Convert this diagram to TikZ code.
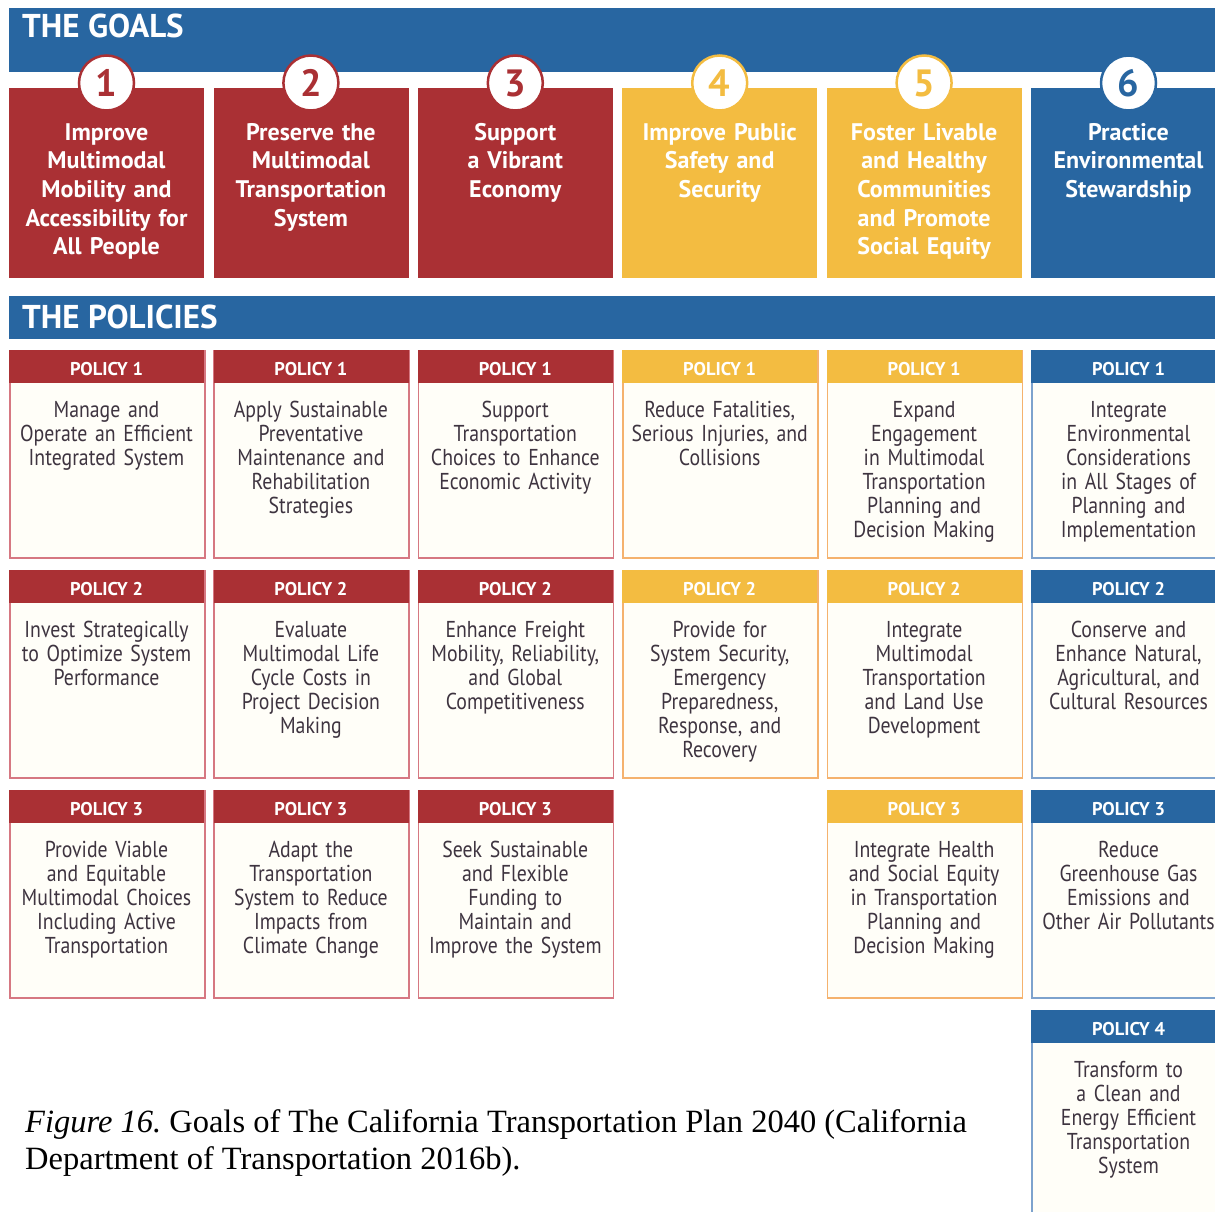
\documentclass[tikz,border=0pt]{standalone}
\usepackage{fontspec}
\setmainfont{Liberation Serif}
\newfontfamily\hfont{PT Sans}
\newfontfamily\bfont[FakeStretch=0.86]{PT Sans}
\usetikzlibrary{calc}
\definecolor{gred}{RGB}{170,48,52}
\definecolor{gyel}{RGB}{243,188,65}
\definecolor{gblu}{RGB}{40,102,161}
\definecolor{bred}{RGB}{214,120,130}
\definecolor{byel}{RGB}{245,178,110}
\definecolor{bblu}{RGB}{125,162,205}
\definecolor{cream}{RGB}{255,254,248}
\definecolor{bodytxt}{RGB}{62,52,64}
\newcommand{\polbox}[6]{%
  \pgfmathsetmacro{\px}{9+(#2-1)*204.4}%
  \pgfmathsetmacro{\py}{350+(#3-1)*220}%
  \pgfmathsetmacro{\pc}{\px+97.5}%
  \node[polbody, draw=#5, anchor=north west] (#1) at (\px,\py) {};
  \node[polhead, fill=#4, anchor=north west] (#1h) at (\px,\py) {};
  \node[polhtext, anchor=base] (#1l) at (\pc,\py+25) {POLICY #3};
  \node[poltext, anchor=base] (#1t) at (\pc,\py+67) {#6};
}
\begin{document}
\begin{tikzpicture}[x=1pt,y=-1pt,
  band/.style={fill=gblu, draw=none, inner sep=0pt, anchor=north west},
  bandtext/.style={text=white, font=\hfont\bfseries\fontsize{33}{33}\selectfont, anchor=base west, inner sep=0pt},
  goalbox/.style={draw=none, inner sep=0pt, minimum width=195pt, minimum height=190pt, anchor=north west},
  goaltext/.style={text=white, align=center, text width=200pt, inner sep=0pt, font=\hfont\bfseries\fontsize{24}{28.7}\selectfont},
  circ/.style={circle, fill=white, line width=2.5pt, minimum size=55pt, inner sep=0pt, font=\hfont\bfseries\fontsize{38}{38}\selectfont},
  polbody/.style={fill=cream, line width=1.5pt, minimum width=195pt, minimum height=207pt, inner sep=0pt},
  polhead/.style={draw=none, inner sep=0pt, minimum width=195pt, minimum height=33pt},
  polhtext/.style={text=white, inner sep=0pt, font=\hfont\bfseries\fontsize{18.5}{20}\selectfont},
  poltext/.style={text=bodytxt, align=center, text width=200pt, inner sep=0pt, font=\bfont\fontsize{23}{24}\selectfont},
  captext/.style={anchor=base west, inner sep=0pt, font=\frenchspacing\fontsize{32.5}{37}\selectfont}
]
\useasboundingbox (0,0) rectangle (1215,1212);
\fill[white] (0,0) rectangle (1215,1212);
% Goals band
\node[band, minimum width=1206pt, minimum height=64pt] (goalsband) at (9,8) {};
\node[bandtext] (goalslabel) at (22,38) {THE GOALS};
% goal boxes
\foreach \i/\col/\txt in {
  1/gred/{Improve\\Multimodal\\Mobility and\\Accessibility for\\All People},
  2/gred/{Preserve the\\Multimodal\\Transportation\\System},
  3/gred/{Support\\a Vibrant\\Economy},
  4/gyel/{Improve Public\\Safety and\\Security},
  5/gyel/{Foster Livable\\and Healthy\\Communities\\and Promote\\Social Equity},
  6/gblu/{Practice\\Environmental\\Stewardship}}{
  \pgfmathsetmacro{\gx}{9+(\i-1)*204.4}
  \pgfmathsetmacro{\gc}{\gx+97.5}
  \node[goalbox, fill=\col] (g\i) at (\gx,88) {};
  \node[goaltext, anchor=base] (gt\i) at (\gc,140) {\txt};
  \node[circ, draw=\col, text=\col] (c\i) at (\gc,83) {\i};
}
% Policies band
\node[band, minimum width=1206pt, minimum height=43pt] (polband) at (9,296) {};
\node[bandtext] (pollabel) at (22,328) {THE POLICIES};
% row 1
\polbox{p11}{1}{1}{gred}{bred}{Manage and\\Operate an Efficient\\Integrated System}
\polbox{p21}{2}{1}{gred}{bred}{Apply Sustainable\\Preventative\\Maintenance and\\Rehabilitation\\Strategies}
\polbox{p31}{3}{1}{gred}{bred}{Support\\Transportation\\Choices to Enhance\\Economic Activity}
\polbox{p41}{4}{1}{gyel}{byel}{Reduce Fatalities,\\Serious Injuries, and\\Collisions}
\polbox{p51}{5}{1}{gyel}{byel}{Expand\\Engagement\\in Multimodal\\Transportation\\Planning and\\Decision Making}
\polbox{p61}{6}{1}{gblu}{bblu}{Integrate\\Environmental\\Considerations\\in All Stages of\\Planning and\\Implementation}
% row 2
\polbox{p12}{1}{2}{gred}{bred}{Invest Strategically\\to Optimize System\\Performance}
\polbox{p22}{2}{2}{gred}{bred}{Evaluate\\Multimodal Life\\Cycle Costs in\\Project Decision\\Making}
\polbox{p32}{3}{2}{gred}{bred}{Enhance Freight\\Mobility, Reliability,\\and Global\\Competitiveness}
\polbox{p42}{4}{2}{gyel}{byel}{Provide for\\System Security,\\Emergency\\Preparedness,\\Response, and\\Recovery}
\polbox{p52}{5}{2}{gyel}{byel}{Integrate\\Multimodal\\Transportation\\and Land Use\\Development}
\polbox{p62}{6}{2}{gblu}{bblu}{Conserve and\\Enhance Natural,\\Agricultural, and\\Cultural Resources}
% row 3
\polbox{p13}{1}{3}{gred}{bred}{Provide Viable\\and Equitable\\Multimodal Choices\\Including Active\\Transportation}
\polbox{p23}{2}{3}{gred}{bred}{Adapt the\\Transportation\\System to Reduce\\Impacts from\\Climate Change}
\polbox{p33}{3}{3}{gred}{bred}{Seek Sustainable\\and Flexible\\Funding to\\Maintain and\\Improve the System}
\polbox{p53}{5}{3}{gyel}{byel}{Integrate Health\\and Social Equity\\in Transportation\\Planning and\\Decision Making}
\polbox{p63}{6}{3}{gblu}{bblu}{Reduce\\Greenhouse Gas\\Emissions and\\Other Air Pollutants}
% row 4
\polbox{p64}{6}{4}{gblu}{bblu}{Transform to\\a Clean and\\Energy Efficient\\Transportation\\System}
% caption
\node[captext] (caption1) at (25,1132)
  {\textit{Figure 16.} Goals of The California Transportation Plan 2040 (California};
\node[captext] (caption2) at (25,1169)
  {Department of Transportation 2016b).};
\end{tikzpicture}
\end{document}
